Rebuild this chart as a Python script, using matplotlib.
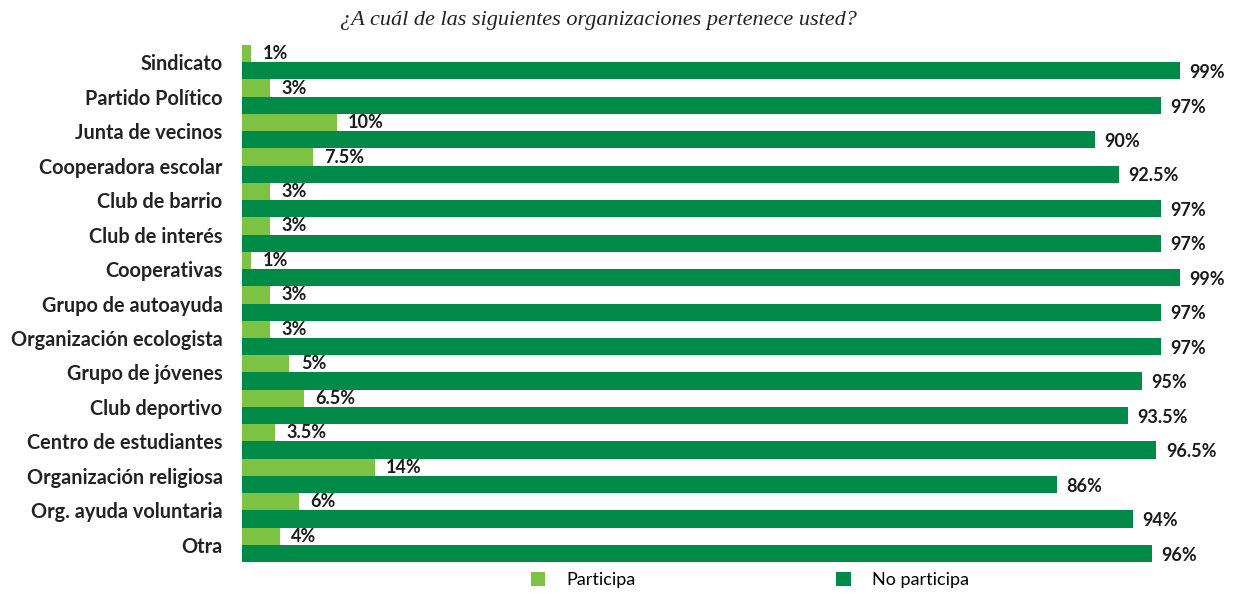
import matplotlib.pyplot as plt
import numpy as np

categorias = ['Sindicato', 'Partido Político', 'Junta de vecinos', 'Cooperadora escolar',
              'Club de barrio', 'Club de interés', 'Cooperativas', 'Grupo de autoayuda',
              'Organización ecologista', 'Grupo de jóvenes', 'Club deportivo',
              'Centro de estudiantes', 'Organización religiosa', 'Org. ayuda voluntaria', 'Otra']
participa = [1, 3, 10, 7.5, 3, 3, 1, 3, 3, 5, 6.5, 3.5, 14, 6, 4]
no_participa = [99, 97, 90, 92.5, 97, 97, 99, 97, 97, 95, 93.5, 96.5, 86, 94, 96]

verde_claro = '#7DC242'
verde_oscuro = '#008A47'

plt.rcParams['font.family'] = ['Lato', 'DejaVu Sans']

fig = plt.figure(figsize=(12.39, 5.95), dpi=100)
ax = fig.add_axes([242 / 1239, 33 / 595, 995 / 1239, 517 / 595])

y = np.arange(len(categorias))
h = 0.5
ax.barh(y - h / 2, participa, height=h, color=verde_claro, label='Participa')
ax.barh(y + h / 2, no_participa, height=h, color=verde_oscuro, label='No participa')

def fmt(v):
    return (f'{v:g}') + '%'

for i in range(len(categorias)):
    ax.text(participa[i] + 1.2, y[i] - h / 2, fmt(participa[i]), va='center', ha='left',
            fontsize=13, fontweight='bold', color='#1a1a1a')
    ax.text(no_participa[i] + 1.0, y[i] + h / 2 + 0.05, fmt(no_participa[i]), va='center', ha='left',
            fontsize=13, fontweight='bold', color='#1a1a1a')

ax.set_yticks(y)
ax.set_yticklabels(categorias, fontsize=14.3, fontweight='bold', color='#222222')
ax.tick_params(axis='y', length=0, pad=14)
ax.set_xticks([])
ax.set_xlim(0, 105)
ax.set_ylim(len(categorias) - 0.5, -0.5)
for s in ax.spines.values():
    s.set_visible(False)

fig.text(598 / 1239, 1 - 20 / 595, '¿A cuál de las siguientes organizaciones pertenece usted?',
         ha='center', va='center', fontsize=16, style='italic',
         family='Liberation Serif', color='#222222')

fig.legend(loc='center', bbox_to_anchor=(750 / 1239, 1 - 580 / 595), ncol=2, frameon=False,
           fontsize=13, handlelength=0.8, handleheight=0.8, columnspacing=11.1, handletextpad=1.2)

fig.savefig('out.png', dpi=100)
